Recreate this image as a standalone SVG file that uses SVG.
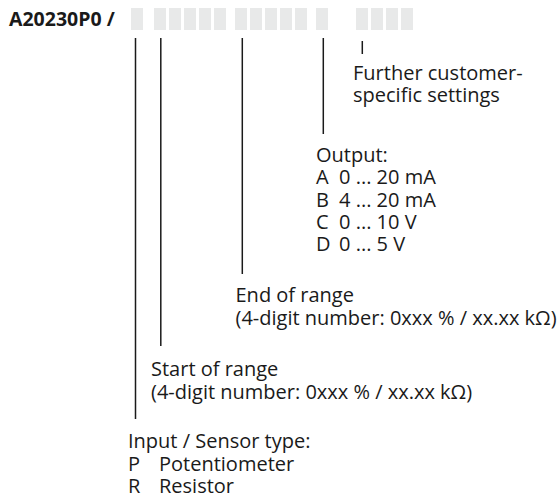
<svg xmlns="http://www.w3.org/2000/svg" width="560" height="501" viewBox="0 0 560 501">
<style>
.t{font-family:"Open Sans","Noto Sans","DejaVu Sans",sans-serif;font-size:20px;fill:#1a1a1a}
.b{font-family:"Open Sans","Noto Sans","DejaVu Sans",sans-serif;font-size:19.5px;font-weight:bold;fill:#1a1a1a}
.box{fill:#e8e9e9}
.ln{stroke:#1a1a1a;stroke-width:1.5;fill:none}
</style>
<rect width="560" height="501" fill="#ffffff"/>
<g id="code">
<text class="b" x="9" y="25.5">A20230P0 /</text>
<rect class="box" x="131" y="8" width="12" height="22"/>
<rect class="box" x="154" y="8" width="12" height="22"/>
<rect class="box" x="169" y="8" width="12" height="22"/>
<rect class="box" x="184" y="8" width="12" height="22"/>
<rect class="box" x="199" y="8" width="12" height="22"/>
<rect class="box" x="214" y="8" width="12" height="22"/>
<rect class="box" x="235" y="8" width="12" height="22"/>
<rect class="box" x="250" y="8" width="12" height="22"/>
<rect class="box" x="265" y="8" width="12" height="22"/>
<rect class="box" x="280" y="8" width="12" height="22"/>
<rect class="box" x="295" y="8" width="12" height="22"/>
<rect class="box" x="316" y="8" width="12" height="22"/>
<rect class="box" x="356" y="8" width="12" height="22"/>
<rect class="box" x="371" y="8" width="12" height="22"/>
<rect class="box" x="386" y="8" width="12" height="22"/>
<rect class="box" x="401" y="8" width="12" height="22"/>
</g>
<g id="connectors">
<line class="ln" x1="135.5" y1="38" x2="135.5" y2="419"/>
<line class="ln" x1="160.8" y1="38" x2="160.8" y2="346"/>
<line class="ln" x1="242.3" y1="38" x2="242.3" y2="274"/>
<line class="ln" x1="323.3" y1="38" x2="323.3" y2="134"/>
<line class="ln" x1="362.3" y1="41" x2="362.3" y2="54"/>
</g>
<g id="further">
<text class="t" x="353" y="79.5">Further customer-</text>
<text class="t" x="353" y="102">specific settings</text>
</g>
<g id="output">
<text class="t" x="316" y="162">Output:</text>
<text class="t" x="316" y="184.3">A</text><text class="t" x="339" y="184.3">0 ... 20 mA</text>
<text class="t" x="316" y="206.5">B</text><text class="t" x="339" y="206.5">4 ... 20 mA</text>
<text class="t" x="316" y="228.5">C</text><text class="t" x="339" y="228.5">0 ... 10 V</text>
<text class="t" x="316" y="250.5">D</text><text class="t" x="339" y="250.5">0 ... 5 V</text>
</g>
<g id="end">
<text class="t" x="235.5" y="302.3">End of range</text>
<text class="t" x="235.5" y="325">(4-digit number: 0xxx % / xx.xx kΩ)</text>
</g>
<g id="start">
<text class="t" x="151" y="376">Start of range</text>
<text class="t" x="151" y="398.5">(4-digit number: 0xxx % / xx.xx kΩ)</text>
</g>
<g id="input">
<text class="t" x="128" y="448.3">Input / Sensor type:</text>
<text class="t" x="128" y="470.5">P</text><text class="t" x="159" y="470.5">Potentiometer</text>
<text class="t" x="128" y="492.7">R</text><text class="t" x="159" y="492.7">Resistor</text>
</g>
</svg>
